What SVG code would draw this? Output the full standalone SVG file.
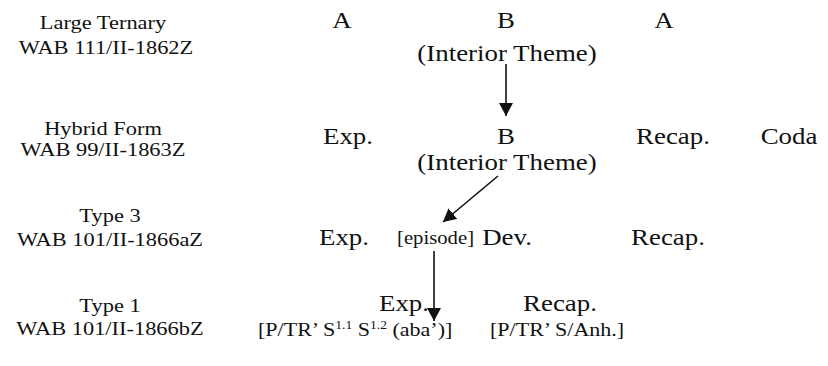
<svg xmlns="http://www.w3.org/2000/svg" width="828" height="366" viewBox="0 0 828 366">
<style>
text{font-family:'Liberation Serif','Times New Roman',serif;fill:#111;}
.lab{font-size:19.5px;text-anchor:middle;}
.stage{font-size:24px;text-anchor:middle;}
.it{font-size:24px;text-anchor:middle;}
.small{font-size:18.5px;}
.br{font-size:19.5px;}
.sup{font-size:12px;}
.conn{stroke:#111;stroke-width:1.6;fill:none;}
</style>
<defs>
<marker id="ah" viewBox="0 0 13 14" refX="13" refY="7" markerWidth="13" markerHeight="14" markerUnits="userSpaceOnUse" orient="auto">
<path d="M0,0 L13,7 L0,14 z" fill="#111"/>
</marker>
</defs>
<rect width="828" height="366" fill="#fff"/>
<g id="row-large-ternary">
<text class="lab" transform="translate(103,29) scale(1.15,1)">Large Ternary</text>
<text class="lab" transform="translate(106,54) scale(1.15,1)">WAB 111/II-1862Z</text>
<text class="stage" transform="translate(342,28) scale(1.12,1)">A</text>
<text class="stage" transform="translate(506,28) scale(1.12,1)">B</text>
<text class="it" transform="translate(507,61) scale(1.12,1)">(Interior Theme)</text>
<text class="stage" transform="translate(664,28) scale(1.12,1)">A</text>
</g>
<g id="row-hybrid">
<text class="lab" transform="translate(103,135) scale(1.15,1)">Hybrid Form</text>
<text class="lab" transform="translate(103,156) scale(1.15,1)">WAB 99/II-1863Z</text>
<text class="stage" transform="translate(348,144) scale(1.12,1)">Exp.</text>
<text class="stage" transform="translate(506,144) scale(1.12,1)">B</text>
<text class="it" transform="translate(507,170) scale(1.12,1)">(Interior Theme)</text>
<text class="stage" transform="translate(673,144) scale(1.12,1)">Recap.</text>
<text class="stage" transform="translate(789,144) scale(1.12,1)">Coda</text>
</g>
<g id="row-type3">
<text class="lab" transform="translate(110,222) scale(1.15,1)">Type 3</text>
<text class="lab" transform="translate(110,246) scale(1.15,1)">WAB 101/II-1866aZ</text>
<text class="stage" transform="translate(344,245) scale(1.12,1)">Exp.</text>
<text class="small" transform="translate(397,244) scale(1.12,1)">[episode]</text>
<text class="stage" transform="translate(507,245) scale(1.12,1)">Dev.</text>
<text class="stage" transform="translate(668,245) scale(1.12,1)">Recap.</text>
</g>
<g id="row-type1">
<text class="lab" transform="translate(110,312) scale(1.15,1)">Type 1</text>
<text class="lab" transform="translate(110,335) scale(1.15,1)">WAB 101/II-1866bZ</text>
<text class="stage" transform="translate(404,311) scale(1.12,1)">Exp.</text>
<text class="br" transform="translate(258,336) scale(1.13,1)">[P/TR’ S<tspan class="sup" dy="-7">1.1</tspan><tspan dy="7"> S</tspan><tspan class="sup" dy="-7">1.2</tspan><tspan dy="7"> (aba’)]</tspan></text>
<text class="stage" transform="translate(560,311) scale(1.12,1)">Recap.</text>
<text class="br" transform="translate(490,336) scale(1.13,1)">[P/TR’ S/Anh.]</text>
</g>
<g id="connectors">
<line class="conn" x1="506" y1="64" x2="506" y2="116" marker-end="url(#ah)"/>
<line class="conn" x1="498" y1="176" x2="443" y2="222" marker-end="url(#ah)"/>
<line class="conn" x1="434" y1="251" x2="434" y2="321" marker-end="url(#ah)"/>
</g>
</svg>
